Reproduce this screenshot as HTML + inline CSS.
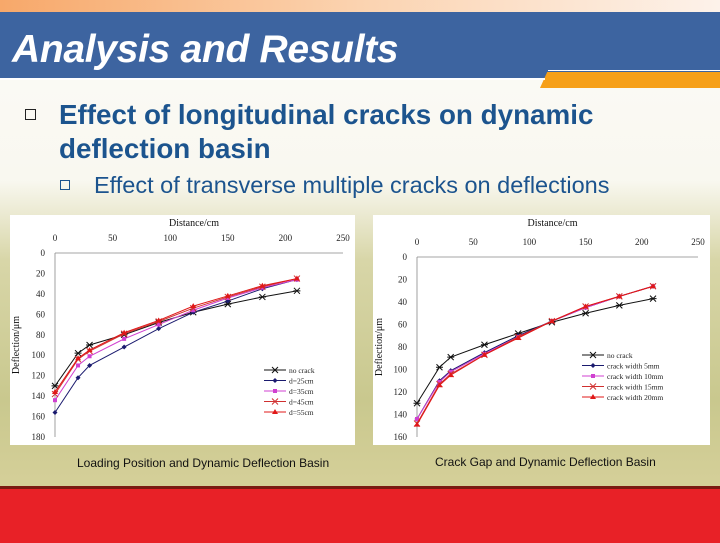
<!DOCTYPE html>
<html><head><meta charset="utf-8"><style>
body{margin:0;width:720px;height:540px;overflow:hidden;position:relative;font-family:"Liberation Sans",sans-serif;
background:linear-gradient(180deg,#fbfbf8 0px,#f9f8f0 180px,#d8d6a8 260px,#c9c88e 400px,#d4cf98 480px);}
.abs{position:absolute}
</style></head><body>
<div class="abs" style="left:0;top:0;width:720px;height:12px;background:linear-gradient(90deg,#f7a86a,#fbd3b0 50%,#fdf2ea)"></div>
<div class="abs" style="left:0;top:12px;width:720px;height:68px;background:#3d64a0"></div>
<div class="abs" style="left:540px;top:72px;width:180px;height:16px;background:#f6a019;clip-path:polygon(4% 0,100% 0,100% 100%,0 100%)"></div>
<div class="abs" style="left:0;top:78px;width:545px;height:2px;background:#fff"></div>
<div class="abs" style="left:548px;top:70px;width:172px;height:1px;background:#fff"></div>
<div class="abs" style="left:12px;top:28px;font-size:39px;font-style:italic;font-weight:bold;color:#fff;letter-spacing:-0.3px">Analysis and Results</div>
<div class="abs" style="left:25px;top:109px;width:9px;height:9px;border:1.5px solid #222"></div>
<div class="abs" style="left:59px;top:98px;font-size:27.8px;font-weight:bold;color:#1c548e;line-height:34px">Effect of longitudinal cracks on dynamic<br>deflection basin</div>
<div class="abs" style="left:60px;top:180px;width:8px;height:8px;border:1.5px solid #1c548e"></div>
<div class="abs" style="left:94px;top:172px;font-size:23.5px;color:#1c548e">Effect of transverse multiple cracks on deflections</div>
<svg class="abs" style="left:0;top:0" width="720" height="540" id="svg"></svg>
<div class="abs" style="left:77px;top:456px;font-size:12px;color:#111">Loading Position and Dynamic Deflection Basin</div>
<div class="abs" style="left:435px;top:455px;font-size:12px;color:#111">Crack Gap and Dynamic Deflection Basin</div>
<div class="abs" style="left:0;top:486px;width:720px;height:54px;background:#e82127;border-top:3px solid #7a1a12"></div>
<script>
const xs=[0,20,30,60,90,120,150,180,210];
const xTicks=[0,50,100,150,200,250];
const yTicks1=[0,20,40,60,80,100,120,140,160,180];
const yTicks2=[0,20,40,60,80,100,120,140,160];
const names1=["no crack","d=25cm","d=35cm","d=45cm","d=55cm"];
const s1a=[130,98,90,80,68,58,50,43,37];
const s1b=[156,122,110,92,74,58,47,35,26];
const s1c=[144,110,101,84,70,56,44,34,26];
const s1d=[138,104,96,79,67,54,43,33,25];
const s1e=[136,103,95,78,66,52,42,32,25];
const names2=["no crack","crack width 5mm","crack width 10mm","crack width 15mm","crack width 20mm"];
const s2a=[130,98,89,78,68,58,50,43,37];
const s2b=[144,110,101,85,70,57,45,35,26];
const s2c=[144,111,102,86,71,57,45,35,26];
const s2d=[148,113,104,87,71,57,44,35,26];
const s2e=[149,114,105,87,72,57,44,35,26];
const colors=["#111","#1a1a6e","#d040d0","#d03030","#e01818"];
const markers=["star","diamond","square","x","tri"];
const NS="http://www.w3.org/2000/svg";
const svg=document.getElementById("svg");
function el(t,a,p){const e=document.createElementNS(NS,t);for(const k in a)e.setAttribute(k,a[k]);(p||svg).appendChild(e);return e;}
function marker(g,type,x,y,c){
 let m;
 if(type==="diamond")m=el("polygon",{points:`${x},${y-2.5} ${x+2.5},${y} ${x},${y+2.5} ${x-2.5},${y}`,fill:c},g);
 else if(type==="square")m=el("rect",{x:x-2,y:y-2,width:4,height:4,fill:c},g);
 else if(type==="tri")m=el("polygon",{points:`${x},${y-3} ${x+3},${y+2} ${x-3},${y+2}`,fill:c},g);
 else if(type==="x")m=el("path",{d:`M${x-3} ${y-3}L${x+3} ${y+3}M${x+3} ${y-3}L${x-3} ${y+3}`,stroke:c,"stroke-width":1},g);
 else m=el("path",{d:`M${x-3} ${y-3}L${x+3} ${y+3}M${x+3} ${y-3}L${x-3} ${y+3}M${x-3.5} ${y}L${x+3.5} ${y}`,stroke:c,"stroke-width":1},g);
 
 
}
function chart(o){
 const g=el("g",{});
 
 
 const bg=el("rect",{x:o.bx,y:o.by,width:o.bw,height:o.bh,fill:"#fff"},g);
 
 
 const X=v=>o.x0+(v/250)*(o.x1-o.x0), Y=v=>o.y0+(v/o.ymax)*(o.y1-o.y0);
 const ax=el("line",{x1:X(0),y1:Y(0),x2:X(250),y2:Y(0),stroke:"#888","stroke-width":0.8},g);
 
 const ay=el("line",{x1:X(0),y1:Y(0),x2:X(0),y2:Y(o.ymax),stroke:"#888","stroke-width":0.8},g);
 
 xTicks.forEach(t=>{const tx=el("text",{x:X(t),y:o.y0-12,"font-size":9,"text-anchor":"middle","font-family":"Liberation Serif, serif",fill:"#222"},g);tx.textContent=t;
  });
 o.yt.forEach(t=>{const tx=el("text",{x:X(0)-10,y:Y(t)+3,"font-size":9,"text-anchor":"end","font-family":"Liberation Serif, serif",fill:"#222"},g);tx.textContent=t;
  });
 const xt=el("text",{x:(X(0)+X(250))/2-5,y:o.by+11,"font-size":10,"text-anchor":"middle","font-family":"Liberation Serif, serif",fill:"#111"},g);xt.textContent="Distance/cm";
 
 const cy=(Y(0)+Y(o.ymax))/2;
 const yt=el("text",{x:o.bx+9,y:cy,"font-size":10,"text-anchor":"middle","font-family":"Liberation Serif, serif",fill:"#111",transform:`rotate(-90 ${o.bx+9} ${cy})`},g);yt.textContent=o.ytitle;
 
 o.series.forEach((s,i)=>{
  const p=el("polyline",{points:s.map((v,j)=>X(xs[j])+","+Y(v)).join(" "),fill:"none",stroke:colors[i],"stroke-width":1},g);
  
  s.forEach((v,j)=>marker(g,markers[i],X(xs[j]),Y(v),colors[i]));
  const ly=o.ly+i*10.5;
  const ll=el("line",{x1:o.lx,y1:ly,x2:o.lx+22,y2:ly,stroke:colors[i]},g);
  
  marker(g,markers[i],o.lx+11,ly,colors[i]);
  const lt=el("text",{x:o.lx+25,y:ly+3,"font-size":7.5,"font-family":"Liberation Serif, serif",fill:"#222"},g);lt.textContent=o.names[i];
  
 });
}
chart({name:"chart-loading-position",bx:10,by:215,bw:345,bh:230,x0:55,x1:343,y0:253,y1:437,ymax:180,yt:yTicks1,ytitle:"Deflection/μm",series:[s1a,s1b,s1c,s1d,s1e],names:names1,lx:264,ly:370});
chart({name:"chart-crack-gap",bx:373,by:215,bw:337,bh:230,x0:417,x1:698,y0:257,y1:437,ymax:160,yt:yTicks2,ytitle:"Deflection/μm",series:[s2a,s2b,s2c,s2d,s2e],names:names2,lx:582,ly:355});
</script>
</body></html>
